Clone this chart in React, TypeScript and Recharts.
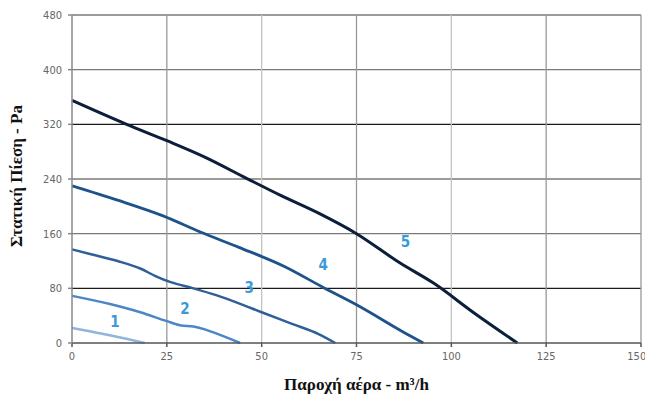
import React from "react";
import { LineChart, Line, XAxis, YAxis, ReferenceLine, ReferenceDot } from "recharts";

const xTicks = [0, 25, 50, 75, 100, 125, 150];
const yTicks = [0, 80, 160, 240, 320, 400, 480];

const curve1 = [
  { x: 0, y: 22 }, { x: 8, y: 13.5 }, { x: 14, y: 6.5 }, { x: 19.2, y: 0 },
];
const curve2 = [
  { x: 0, y: 69 }, { x: 10, y: 57 }, { x: 18, y: 45 }, { x: 25, y: 32 }, { x: 28.5, y: 26 },
  { x: 32, y: 24 }, { x: 35, y: 20 }, { x: 38, y: 14 }, { x: 44.3, y: 0 },
];
const curve3 = [
  { x: 0, y: 137 }, { x: 5, y: 130 }, { x: 12, y: 120 }, { x: 18, y: 109 }, { x: 22, y: 98 },
  { x: 26, y: 89 }, { x: 32, y: 80 }, { x: 38, y: 70 }, { x: 44, y: 58 }, { x: 50, y: 45 },
  { x: 58, y: 28 }, { x: 65, y: 13 }, { x: 69.4, y: 0 },
];
const curve4 = [
  { x: 0, y: 230 }, { x: 12, y: 209 }, { x: 24, y: 186 }, { x: 34, y: 162 }, { x: 44, y: 140 },
  { x: 56, y: 112 }, { x: 66, y: 82 }, { x: 75, y: 56 }, { x: 88, y: 14 }, { x: 92.6, y: 0 },
];
const curve5 = [
  { x: 0, y: 355 }, { x: 14.4, y: 320 }, { x: 25, y: 296 }, { x: 35, y: 272 }, { x: 46, y: 241 },
  { x: 55, y: 216 }, { x: 65, y: 190 }, { x: 75, y: 160 }, { x: 86.5, y: 117 }, { x: 95.2, y: 88 },
  { x: 106, y: 44 }, { x: 117.4, y: 0 },
];
const curveLabels = [
  { name: "1", x: 11.3, y: 31 },
  { name: "2", x: 29.8, y: 50 },
  { name: "3", x: 46.7, y: 80.5 },
  { name: "4", x: 66.2, y: 114 },
  { name: "5", x: 87.9, y: 149 },
];

const series = [
  { data: curve1, color: "#8fb5dd", width: 2.5 },
  { data: curve2, color: "#4a86c8", width: 2.5 },
  { data: curve3, color: "#2f5f98", width: 2.5 },
  { data: curve4, color: "#1d528a", width: 2.8 },
  { data: curve5, color: "#0b1e3a", width: 3 },
];

const hStroke = (v: number) => (v === 80 || v === 320 ? "#1a1a1a" : "#7a7a7a");
const vStroke = (v: number) => (v === 50 || v === 100 ? "#c4c4c4" : "#999999");

const tickFont = "'DejaVu Sans Condensed', 'Liberation Sans Narrow', 'Roboto', sans-serif";

export default function App() {
  return (
    <div style={{ position: "absolute", left: 0, top: 0, width: 645, height: 401, background: "#fff" }}>
      <LineChart width={645} height={401} margin={{ top: 15, right: 4, bottom: 28, left: 0 }}>
        {yTicks.filter((v) => v > 0).map((v) => (
          <ReferenceLine key={"h" + v} y={v} stroke={hStroke(v)} strokeWidth={1.3} />
        ))}
        {xTicks.filter((v) => v > 0).map((v) => (
          <ReferenceLine key={"v" + v} x={v} stroke={vStroke(v)} strokeWidth={1.3} />
        ))}
        <XAxis
          type="number"
          dataKey="x"
          domain={[0, 150]}
          ticks={xTicks}
          height={30}
          stroke="#555"
          strokeWidth={1.5}
          tickSize={4}
          tickMargin={5}
          tick={{ fill: "#666", fontSize: 11, fontFamily: tickFont }}
          allowDuplicatedCategory={false}
        />
        <YAxis
          type="number"
          domain={[0, 480]}
          ticks={yTicks}
          width={72}
          stroke="#888"
          strokeWidth={1.5}
          tickSize={4}
          tickMargin={6}
          tick={{ fill: "#666", fontSize: 11, fontFamily: tickFont }}
        />
        {series.map((s, i) => (
          <Line
            key={i}
            data={s.data}
            dataKey="y"
            type="monotone"
            stroke={s.color}
            strokeWidth={s.width}
            dot={false}
            activeDot={false}
            isAnimationActive={false}
          />
        ))}
        {curveLabels.map((l) => (
          <ReferenceDot
            key={l.name}
            x={l.x}
            y={l.y}
            r={0}
            fill="none"
            stroke="none"
            label={{ value: l.name, position: "center", fill: "#3a9ad9", fontSize: 15, fontWeight: 600, fontFamily: tickFont }}
          />
        ))}
      </LineChart>
      <div
        style={{
          position: "absolute",
          left: 0,
          top: 375,
          width: 713,
          textAlign: "center",
          fontFamily: "'Liberation Serif', 'DejaVu Serif', serif",
          fontWeight: "bold",
          fontSize: 17,
          lineHeight: "20px",
          color: "#111",
        }}
      >
        Παροχή αέρα - m³/h
      </div>
      <div
        style={{
          position: "absolute",
          left: 17,
          top: 176,
          transform: "translate(-50%, -50%) rotate(-90deg)",
          whiteSpace: "nowrap",
          fontFamily: "'Liberation Serif', 'DejaVu Serif', serif",
          fontWeight: "bold",
          fontSize: 17,
          lineHeight: "20px",
          color: "#111",
        }}
      >
        Στατική Πίεση - Pa
      </div>
    </div>
  );
}
